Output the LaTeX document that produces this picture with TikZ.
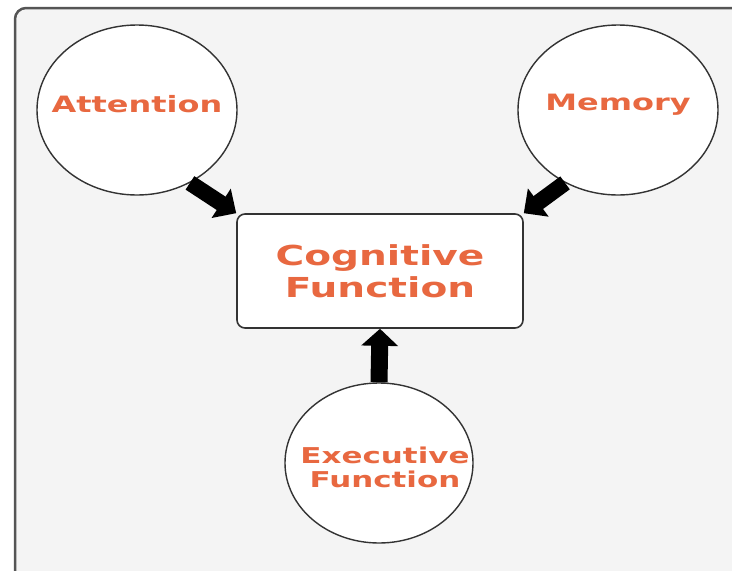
\documentclass[tikz,border=0pt]{standalone}
\usepackage{fontspec}
\newfontfamily\widefont[FakeStretch=1.42]{DejaVu Sans}
\usetikzlibrary{arrows.meta,shapes.geometric}
\definecolor{txtorange}{RGB}{232,104,64}
\definecolor{framegray}{RGB}{85,85,85}
\definecolor{bggray}{RGB}{244,244,244}
\tikzset{
  circtext/.style={text=txtorange, align=center, inner sep=0pt, font=\widefont\bfseries\fontsize{22.5}{24}\selectfont},
  circ/.style={ellipse, draw=black!80, line width=1.4pt, fill=white, minimum width=200pt, minimum height=170pt, inner sep=0pt},
  cbox/.style={rectangle, rounded corners=8pt, draw=black!80, line width=1.6pt, fill=white, minimum width=286pt, minimum height=114pt, inner sep=0pt, text=txtorange, align=center, font=\widefont\bfseries\fontsize{27.5}{32}\selectfont},
  fatarrow/.style={draw=black, line width=16pt, -{Triangle[length=18pt, width=34pt]}},
}
\begin{document}
\begin{tikzpicture}[x=1pt,y=-1pt]
\useasboundingbox (0,0) rectangle (732,571);
\clip (0,0) rectangle (732,571);
\fill[white] (0,0) rectangle (732,571);
\draw[framegray, line width=2.5pt, fill=bggray, rounded corners=11pt] (15,8) rectangle (750,590);
\node[circ, label={[circtext, yshift=6pt]center:Attention}] (att) at (137,110) {};
\node[circ, label={[circtext, yshift=5pt]center:Memory}] (mem) at (618,110) {};
\node[cbox] (cog) at (380,271) {Cognitive\\Function};
\node[circ, minimum width=188pt, minimum height=160pt, label={[circtext, font=\widefont\bfseries\fontsize{21.8}{24}\selectfont, yshift=-4pt, xshift=6pt]center:Executive\\Function}] (exe) at (379,463) {};
\draw[fatarrow] (att.-54) -- (cog.north west);
\draw[fatarrow] (mem.-126) -- (cog.north east);
\draw[fatarrow, line width=17pt, -{Triangle[length=17pt, width=36pt]}] (exe.north) -- (cog.south);
\end{tikzpicture}
\end{document}
